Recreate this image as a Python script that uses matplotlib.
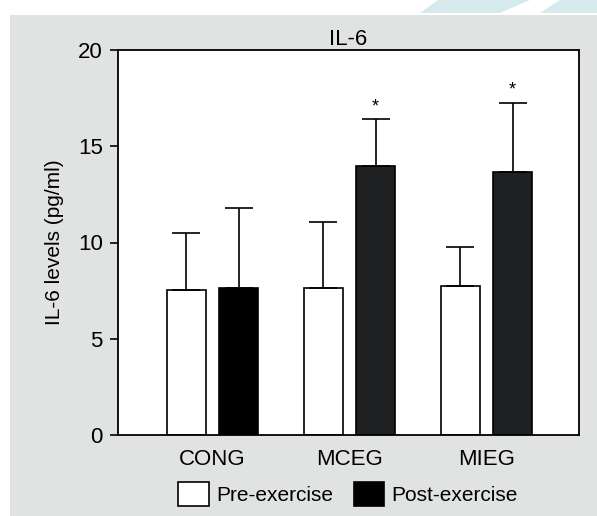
import matplotlib
matplotlib.use('Agg')
import matplotlib.pyplot as plt
import matplotlib.patches as mpatches
import numpy as np

plt.rcParams['font.family'] = ['Liberation Sans', 'DejaVu Sans']

# data
groups = ['CONG', 'MCEG', 'MIEG']
pre_mean = [7.55, 7.64, 7.73]
pre_sd = [2.93, 3.42, 2.06]
post_mean = [7.62, 13.97, 13.68]
post_sd = [4.18, 2.43, 3.58]
significant = [False, True, True]
post_colors = ['#000000', '#1e2021', '#1e2021']
yticks = [0, 5, 10, 15, 20]

fig = plt.figure(figsize=(5.97, 5.16), dpi=100)
fig.patch.set_facecolor('white')

# light blue watermark scrap and grey panel behind the chart
fig.add_artist(mpatches.Polygon([(438/597, 1), (530/597, 1), (500/597, 1 - 13/516), (420/597, 1 - 13/516)],
                                closed=True, transform=fig.transFigure, facecolor='#d6eaee',
                                edgecolor='none', zorder=0))
fig.add_artist(mpatches.Polygon([(560/597, 1), (597/597, 1), (597/597, 1 - 13/516), (540/597, 1 - 13/516)],
                                closed=True, transform=fig.transFigure, facecolor='#d6eaee',
                                edgecolor='none', zorder=0))
fig.add_artist(mpatches.Rectangle((10/597, 0), 1 - 10/597, 1 - 15/516, transform=fig.transFigure,
                                  facecolor='#e1e3e2', edgecolor='none', zorder=0))

ax = fig.add_axes([118/597, 81/516, 461/597, 385/516])
ax.set_facecolor('white')

x = np.arange(len(groups))
w = 0.28
off = 0.19
err_kw = dict(capsize=10, elinewidth=1.2, capthick=1.2, ecolor='black')

ax.bar(x - off, pre_mean, w, color='white', edgecolor='black', linewidth=1.2,
       yerr=[np.zeros(3), pre_sd], error_kw=err_kw, zorder=2)
ax.bar(x + off, post_mean, w, color=post_colors, edgecolor='black', linewidth=1.2,
       yerr=[np.zeros(3), post_sd], error_kw=err_kw, zorder=2)

for i, sig in enumerate(significant):
    if sig:
        ax.annotate('*', xy=(x[i] + off, post_mean[i] + post_sd[i]), xytext=(0, 3),
                    textcoords='offset points', ha='center', va='bottom', fontsize=13)

ax.set_xlim(-0.69, 2.675)
ax.set_ylim(0, 20)
ax.set_yticks(yticks)
ax.set_xticks(x)
ax.set_xticklabels(groups)
ax.tick_params(axis='y', length=6, width=1.2, labelsize=16, pad=5)
ax.tick_params(axis='x', length=0, labelsize=16, pad=10)
for s in ax.spines.values():
    s.set_linewidth(1.3)

ax.set_ylabel('IL-6 levels (pg/ml)', fontsize=15, labelpad=10)
ax.set_title('IL-6', fontsize=16, pad=3)

handles = [mpatches.Patch(facecolor='white', edgecolor='black', linewidth=1.2, label='Pre-exercise'),
           mpatches.Patch(facecolor='black', edgecolor='black', linewidth=1.2, label='Post-exercise')]
fig.legend(handles=handles, loc='center', bbox_to_anchor=(348/597, 22/516), ncol=2, frameon=False,
           fontsize=15, handlelength=1.45, handleheight=1.45, handletextpad=0.35, columnspacing=1.0)

plt.savefig('out.png', dpi=100, facecolor='white')
